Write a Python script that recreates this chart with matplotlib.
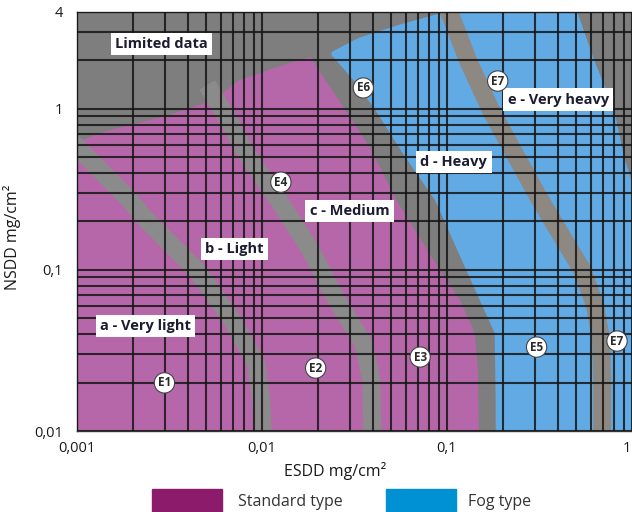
import numpy as np
import matplotlib
matplotlib.use('Agg')
import matplotlib.pyplot as plt
from matplotlib.ticker import LogLocator, NullFormatter
from matplotlib.patches import Rectangle

plt.rcParams['font.family'] = ['Open Sans', 'DejaVu Sans']

# pollution zones (ESDD, NSDD in mg/cm2)
standard_x = [0.001, 0.001, 0.00138, 0.00316, 0.00552, 0.00752, 0.0109, 0.0158, 0.0183,
              0.0229, 0.0283, 0.039, 0.0532, 0.0698, 0.0895, 0.1175, 0.1415, 0.147, 0.1486]
standard_y = [0.01, 0.623, 0.719, 0.917, 1.14, 1.51, 1.75, 2.01, 2.10,
              1.41, 0.985, 0.556, 0.272, 0.165, 0.104, 0.065, 0.0406, 0.0239, 0.01]

fog_x = [0.0238, 0.0332, 0.0545, 0.0895, 0.1012, 0.506, 0.625, 0.8, 0.906, 1.0, 1.0,
         0.1833, 0.1833, 0.181, 0.125, 0.0861, 0.0594, 0.041, 0.0312, 0.0238]
fog_y = [2.26, 2.76, 3.32, 3.89, 4.0, 4.0, 2.01, 0.985, 0.503, 0.35, 0.01,
         0.01, 0.0156, 0.0406, 0.104, 0.272, 0.503, 0.985, 1.51, 2.16]

# borders between classes
ab_x = [0.000862, 0.00193, 0.00232, 0.00442, 0.0069, 0.00929, 0.0099, 0.0101]
ab_y = [0.689, 0.272, 0.210, 0.100, 0.0489, 0.0264, 0.0156, 0.0095]
bc_x = [0.00506, 0.00681, 0.0080, 0.00988, 0.0123, 0.0183, 0.0253, 0.0353, 0.039, 0.0395]
bc_y = [1.41, 0.795, 0.556, 0.389, 0.272, 0.133, 0.065, 0.0352, 0.0207, 0.0095]
de_x = [0.1012, 0.1297, 0.1725, 0.2264, 0.308, 0.42, 0.538, 0.632, 0.681, 0.69, 0.69]
de_y = [4.2, 2.01, 0.985, 0.556, 0.292, 0.16, 0.1, 0.06, 0.0367, 0.0207, 0.0095]

class_names = ['Limited data', 'a - Very light', 'b - Light', 'c - Medium', 'd - Heavy', 'e - Very heavy']
class_x = [0.00286, 0.00235, 0.00707, 0.0297, 0.109, 0.40]
class_y = [2.53, 0.0449, 0.135, 0.232, 0.468, 1.14]

sites = ['E1', 'E2', 'E3', 'E4', 'E5', 'E6', 'E7', 'E7']
site_x = [0.00297, 0.0195, 0.0716, 0.01265, 0.305, 0.0353, 0.188, 0.83]
site_y = [0.0199, 0.0246, 0.0288, 0.351, 0.0332, 1.35, 1.49, 0.0362]

gray = '#7e7e7e'
band_gray = '#8b8b8b'
pink = '#b667a9'
blue = '#62aae4'

fig = plt.figure(figsize=(6.32, 5.12), dpi=100)
ax = fig.add_axes([0.1218, 0.1582, 0.8782, 0.8184])
ax.set_xscale('log')
ax.set_yscale('log')
ax.set_xlim(0.001, 1)
ax.set_ylim(0.01, 4)
ax.set_facecolor(gray)

ax.fill(standard_x, standard_y, color=pink, lw=0, zorder=1)
ax.fill(fog_x, fog_y, color=blue, lw=0, zorder=1)
for bx, by, c in [(ab_x, ab_y, band_gray), (bc_x, bc_y, band_gray), (de_x, de_y, '#8e8882')]:
    ax.plot(bx, by, color=c, lw=13, solid_joinstyle='round', solid_capstyle='butt', zorder=1.5)

ax.set_axisbelow(False)
ax.xaxis.set_minor_locator(LogLocator(base=10, subs=np.arange(2, 10)))
ax.yaxis.set_minor_locator(LogLocator(base=10, subs=np.arange(2, 10)))
ax.xaxis.set_minor_formatter(NullFormatter())
ax.yaxis.set_minor_formatter(NullFormatter())
ax.set_xticks([0.001, 0.01, 0.1, 1], ['0,001', '0,01', '0,1', ''])
ax.set_yticks([0.01, 0.1, 1, 4], ['0,01', '0,1', '1', '4'])
ax.grid(which='both', color='#151515', lw=1.5, alpha=0.85)
ax.tick_params(which='both', length=0, labelsize=10.5, colors='#1a1a1a')
ax.tick_params(axis='x', pad=7)
ax.tick_params(axis='y', pad=10)
for s in ax.spines.values():
    s.set_color('#333333')
    s.set_linewidth(1)

# last x label sits at the right edge of the picture
ax.annotate('1', xy=(1, 0.01), xytext=(-1, -7), textcoords='offset points',
            ha='right', va='top', fontsize=10.5, color='#1a1a1a', annotation_clip=False)

for name, x, y in zip(class_names, class_x, class_y):
    ax.text(x, y, name, ha='center', va='center', fontsize=10.5, fontweight='bold',
            color='#1c1c30', zorder=5,
            bbox=dict(boxstyle='square,pad=0.3', fc='white', ec='none'))

for name, x, y in zip(sites, site_x, site_y):
    ax.text(x, y, name, ha='center', va='center', fontsize=8.5, fontweight='bold',
            color='#2a2a2a', zorder=5,
            bbox=dict(boxstyle='circle,pad=0.3', fc='white', ec='#444444', lw=0.8))

ax.set_xlabel('ESDD mg/cm²', fontsize=11.5, color='#1a1a1a')
ax.xaxis.set_label_coords(0.466, -0.075)
ax.set_ylabel('NSDD mg/cm²', fontsize=11.5, color='#1a1a1a')
ax.yaxis.set_label_coords(-0.1, 0.463)

legend_items = [('Standard type', '#8c1c6b', 152, 238), ('Fog type', '#0090d4', 386, 468)]
for label, col, px, tx in legend_items:
    fig.patches.append(Rectangle((px / 632, -0.02), 70 / 632, 0.065, color=col,
                                 transform=fig.transFigure, figure=fig))
    fig.text(tx / 632, 0.02, label, fontsize=11.5, color='#333333', va='center')

fig.savefig('out.png', dpi=100)
